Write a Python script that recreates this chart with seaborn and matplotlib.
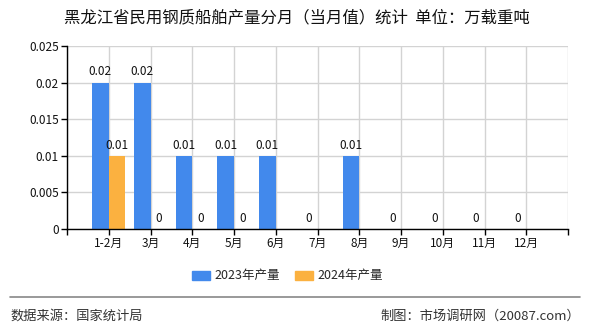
import matplotlib
matplotlib.use("Agg")
import matplotlib.pyplot as plt
import seaborn as sns
import numpy as np
import pandas as pd
from matplotlib.lines import Line2D

months = ["1-2月", "3月", "4月", "5月", "6月", "7月", "8月", "9月", "10月", "11月", "12月"]
values_2023 = [0.02, 0.02, 0.01, 0.01, 0.01, 0, 0.01, 0, 0, 0, 0]
values_2024 = [0.01, 0, 0, 0, np.nan, np.nan, np.nan, np.nan, np.nan, np.nan, np.nan]
series_names = ["2023年产量", "2024年产量"]
colors = ["#4289EC", "#FBB140"]
title = "黑龙江省民用钢质船舶产量分月（当月值）统计  单位：万载重吨"
y_ticks = [0, 0.005, 0.01, 0.015, 0.02, 0.025]

sns.set_theme(style="white")
plt.rcParams["font.family"] = ["Noto Sans CJK SC", "DejaVu Sans"]

df = pd.DataFrame({
    "月份": months * 2,
    "产量": values_2023 + values_2024,
    "系列": [series_names[0]] * len(months) + [series_names[1]] * len(months),
})

fig = plt.figure(figsize=(5.9, 3.3), dpi=100)
ax = fig.add_axes([67 / 590, 1 - 229 / 330, (568 - 67) / 590, (229 - 46) / 330])

sns.barplot(data=df, x="月份", y="产量", hue="系列", order=months,
            hue_order=series_names, palette=colors, width=0.8,
            saturation=1, ax=ax, legend=False)

for cont in ax.containers:
    ax.bar_label(cont, fmt=lambda v: f"{v:g}", padding=3, fontsize=8.5, color="#111111")

ax.set_xlim(-1, len(months))
ax.set_ylim(0, 0.025)
ax.set_xticks(range(-1, len(months) + 1))
ax.set_xticklabels([""] + months + [""], fontsize=8.5)
ax.set_yticks(y_ticks)
ax.set_yticklabels([f"{v:g}" for v in y_ticks], fontsize=8.5)
ax.set_xlabel("")
ax.set_ylabel("")
ax.grid(True, color="#D3D3D3", linewidth=1)
ax.set_axisbelow(True)
for s in ["top", "right"]:
    ax.spines[s].set_visible(False)
for s in ["left", "bottom"]:
    ax.spines[s].set_color("black")
    ax.spines[s].set_linewidth(1)
ax.tick_params(axis="both", which="both", direction="out", length=4, width=1,
               color="black", labelcolor="#111111", pad=2, bottom=True, left=True)
for bar in ax.patches:
    bar.set_edgecolor("none")

fig.text(297 / 590, 1 - 18 / 330, title, ha="center", va="center", fontsize=11.8, color="#111111")

handles = [plt.Rectangle((0, 0), 1, 1, color=c) for c in colors]
fig.legend(handles, series_names, loc="center", ncol=2,
           bbox_to_anchor=(287 / 590, 1 - 276 / 330), frameon=False,
           fontsize=9, handlelength=1.5, handleheight=0.7, columnspacing=1.2,
           handletextpad=0.3)

fig.add_artist(Line2D([10 / 590, 580 / 590], [1 - 297 / 330] * 2,
                      color="#888888", linewidth=1.2, transform=fig.transFigure))
fig.text(10 / 590, 1 - 316 / 330, "数据来源：国家统计局", ha="left", va="center",
         fontsize=9.5, color="#333333")
fig.text(580 / 590, 1 - 316 / 330, "制图：市场调研网（20087.com）", ha="right", va="center",
         fontsize=9.5, color="#333333")

fig.savefig("out.png", dpi=100)
